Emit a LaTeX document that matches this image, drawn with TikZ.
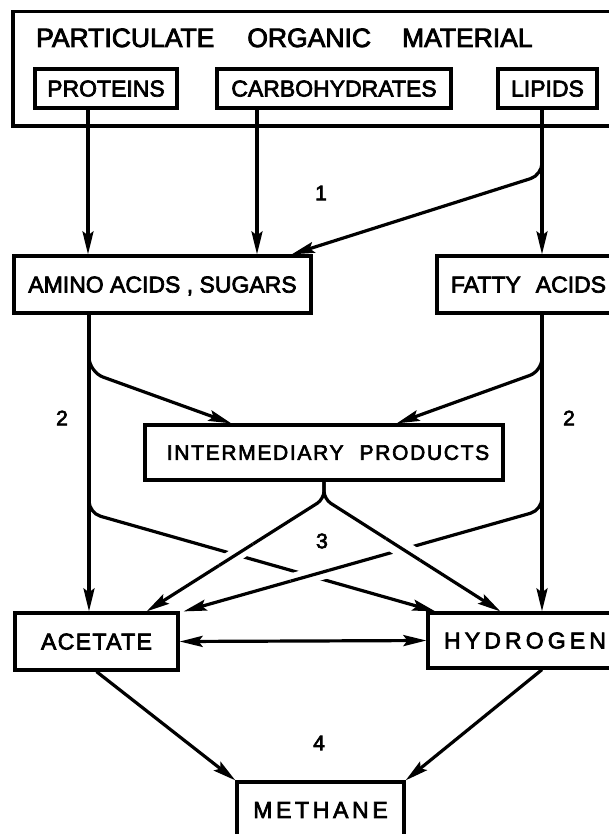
\documentclass[tikz,border=0pt]{standalone}
\usepackage{fontspec}
\setmainfont{Liberation Sans}[FakeBold=3]
\usetikzlibrary{arrows.meta,calc,intersections}
\begin{document}
\begin{tikzpicture}[x=1pt,y=-1pt,
  >={Stealth[length=23pt,width=11pt,inset=4pt]},
  box/.style={draw, line width=3.2pt, inner sep=0pt, text depth=0pt, font=\fontsize{23}{23}\selectfont},
  conn/.style={line width=3.2pt, ->},
  plainline/.style={line width=3.2pt},
  lab/.style={font=\fontsize{21}{21}\selectfont, inner sep=0pt},
]
\useasboundingbox (0,0) rectangle (609,834);

% boxes
\node[box, minimum width=627, minimum height=114.5] (pom) at (326.5,68.75) {};
\node[anchor=base west, inner sep=0pt, font=\fontsize{26.5}{26.5}\selectfont] (title) at (36,47) {PARTICULATE\hspace{33pt}ORGANIC\hspace{31pt}MATERIAL};
\node[box, minimum width=142, minimum height=39] (prot) at (106,88.5) {PROTEINS};
\node[box, minimum width=234, minimum height=39] (carb) at (334,88.5) {CARBOHYDRATES};
\node[box, minimum width=99, minimum height=39] (lip) at (547.5,88.5) {LIPIDS};
\node[box, minimum width=297, minimum height=57] (amino) at (162.5,284.5) {AMINO ACIDS , SUGARS};
\node[box, minimum width=183, minimum height=57] (fat) at (528.5,284.5) {FATTY\hspace{15pt}ACIDS};
\node[box, minimum width=358, minimum height=55, font=\fontsize{21}{21}\selectfont\addfontfeature{LetterSpace=8}] (inter) at (324,452.5) {\hspace{8pt}INTERMEDIARY\hspace{16pt}PRODUCTS};
\node[box, minimum width=163, minimum height=57, font=\fontsize{23}{23}\selectfont\addfontfeature{LetterSpace=6}] (acet) at (96.5,641.5) {ACETATE};
\node[box, minimum width=194, minimum height=55, font=\fontsize{23}{23}\selectfont\addfontfeature{LetterSpace=18}] (hyd) at (525,640.5) {HYDROGEN};
\node[box, minimum width=167, minimum height=56, font=\fontsize{23}{23}\selectfont\addfontfeature{LetterSpace=16}] (meth) at (320.5,810) {METHANE};

% column positions and bend points
\coordinate (cP) at (88,0);
\coordinate (cC) at (257,0);
\coordinate (cR) at (542,0);
\coordinate (cL) at (89,0);
\coordinate (b1) at (542,175);
\coordinate (b2) at (89,372);
\coordinate (b3) at (542,371);
\coordinate (sp) at (324,499);
\coordinate (bA) at (89,513);
\coordinate (bB) at (542,510);

% step 1
\draw[conn] (prot.south -| cP) -- (amino.north -| cP);
\draw[conn] (carb.south -| cC) -- (amino.north -| cC);
\draw[conn] (lip.south -| cR) -- (fat.north -| cR);
\draw[conn, rounded corners=12pt] (lip.south -| cR) -- (b1) -- ($(amino.north east)+(-21,0)$);

% step 2
\draw[conn] (amino.south -| cL) -- (acet.north -| cL);
\draw[conn, rounded corners=15pt] (amino.south -| cL) -- (b2) -- ($(inter.north west)+(88,0)$);
\draw[conn] (fat.south -| cR) -- (hyd.north -| cR);
\draw[conn, rounded corners=13pt] (fat.south -| cR) -- (b3) -- ($(inter.north east)+(-108,0)$);

% step 3
\draw[conn, rounded corners=12pt, name path=la] (amino.south -| cL) -- (bA) -- ($(hyd.north west)+(9,0)$);
\draw[conn, rounded corners=12pt, name path=lb] (fat.south -| cR) -- (bB) -- ($(acet.north east)+(4,0)$);
\draw[conn, rounded corners=8pt, name path=sl] (inter.south) -- (sp) -- ($(acet.north east)+(-33,0)$);
\draw[conn, rounded corners=8pt, name path=sr] (inter.south) -- (sp) -- ($(hyd.north west)+(74,0)$);

\path[name intersections={of=la and sl, by=x1}];
\path[name intersections={of=la and lb, by=x2}];
\path[name intersections={of=lb and sr, by=x3}];

\begin{scope}
  \clip (x1) circle (20pt);
  \draw[white, line width=14pt] (sp) -- ($(acet.north east)+(-33,0)$);
  \draw[plainline] (sp) -- ($(acet.north east)+(-33,0)$);
\end{scope}
\begin{scope}
  \clip (x2) circle (20pt);
  \draw[white, line width=15pt] (bB) -- ($(acet.north east)+(4,0)$);
  \draw[plainline] (bB) -- ($(acet.north east)+(4,0)$);
\end{scope}
\begin{scope}
  \clip (x3) circle (20pt);
  \draw[white, line width=18pt] (sp) -- ($(hyd.north west)+(74,0)$);
  \draw[plainline] (sp) -- ($(hyd.north west)+(74,0)$);
\end{scope}

\draw[line width=3.2pt, <->] (acet.east) -- (hyd.west);

% step 4
\draw[conn] (acet.south) -- (meth.north west);
\draw[conn] (hyd.south -| cR) -- (meth.north east);

% labels
\node[lab] (n1) at (321,193) {1};
\node[lab] (n2a) at (62,418) {2};
\node[lab] (n2b) at (569,418) {2};
\node[lab] (n3) at (322,541) {3};
\node[lab] (n4) at (319,743) {4};
\end{tikzpicture}
\end{document}
